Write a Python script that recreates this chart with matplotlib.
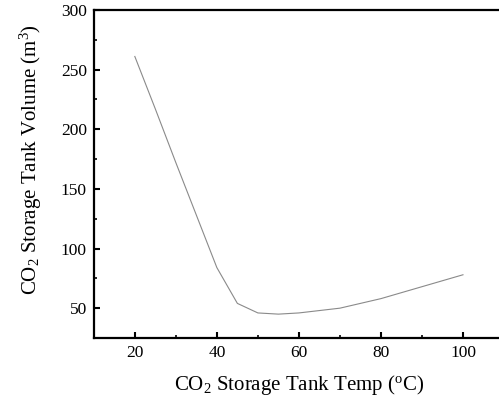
import matplotlib
matplotlib.use('Agg')
import matplotlib.pyplot as plt
from matplotlib.ticker import MultipleLocator

# Times-like styling
plt.rcParams['font.family'] = ['Liberation Serif', 'DejaVu Serif']
plt.rcParams['mathtext.fontset'] = 'custom'
plt.rcParams['mathtext.rm'] = 'Liberation Serif'
plt.rcParams['mathtext.it'] = 'Liberation Serif:italic'
plt.rcParams['font.size'] = 12.5

# Data
temp = [20, 25, 30, 35, 40, 45, 50, 55, 60, 65, 70, 75, 80, 85, 90, 95, 100]
volume = [261, 217, 172, 128, 84, 54, 46, 45, 46, 48, 50, 54, 58, 63, 68, 73, 78]

fig = plt.figure(figsize=(4.99, 4.08), dpi=100)
ax = fig.add_axes([0.188, 0.1716, 0.822, 0.804])

ax.plot(temp, volume, color='#8a8a8a', linewidth=0.8)

ax.set_xlim(10, 110)
ax.set_ylim(25, 300)
ax.xaxis.set_major_locator(MultipleLocator(20))
ax.xaxis.set_minor_locator(MultipleLocator(10))
ax.yaxis.set_major_locator(MultipleLocator(50))
ax.yaxis.set_minor_locator(MultipleLocator(25))
ax.set_xticks([20, 40, 60, 80, 100])
ax.set_yticks([50, 100, 150, 200, 250, 300])

ax.tick_params(which='major', direction='in', length=4, width=1.5, labelsize=12.5, pad=5)
ax.tick_params(which='minor', direction='in', length=2, width=1.2)
for spine in ax.spines.values():
    spine.set_linewidth(1.6)

ax.set_xlabel(r'CO$_2$ Storage Tank Temp ($^{\mathrm{o}}$C)', fontsize=15, labelpad=9)
ax.set_ylabel(r'CO$_2$ Storage Tank Volume (m$^3$)', fontsize=15)
ax.yaxis.set_label_coords(-0.122, 0.543)

plt.savefig('out.png', dpi=100, facecolor='white')
